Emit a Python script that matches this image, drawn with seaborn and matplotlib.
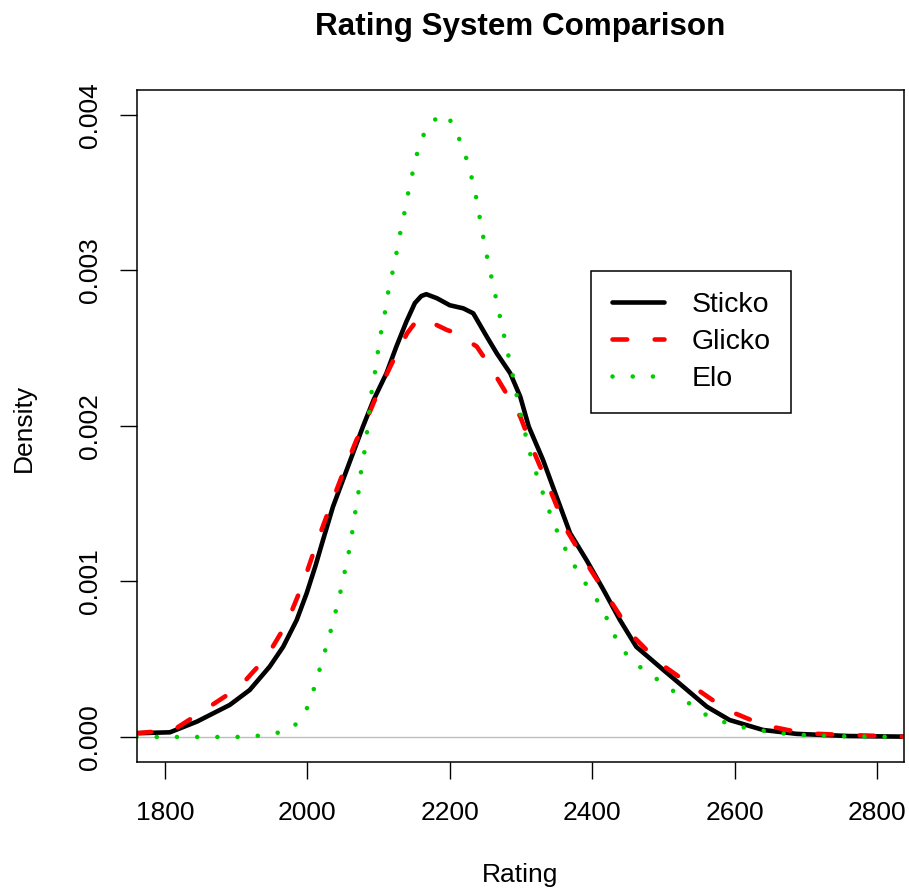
import numpy as np
import pandas as pd
import seaborn as sns
import matplotlib
matplotlib.use("Agg")
import matplotlib.pyplot as plt
from matplotlib.lines import Line2D

# densities (y in units of 1e-3)
sticko_x = [1760, 1807, 1845, 1891, 1919, 1947, 1966, 1985, 1999, 2011, 2022, 2036,
            2050, 2064, 2078, 2093, 2111, 2125, 2139, 2151, 2160, 2167, 2182, 2200, 2219,
            2233, 2252, 2266, 2285, 2299, 2311, 2331, 2350, 2369, 2392, 2416, 2439,
            2462, 2500, 2528, 2561, 2593, 2640, 2687, 2760, 2838]
sticko_y = [0.024, 0.030, 0.099, 0.206, 0.302, 0.452, 0.580, 0.752, 0.924, 1.095, 1.267, 1.481,
            1.653, 1.824, 1.995, 2.167, 2.338, 2.510, 2.670, 2.790, 2.835, 2.847, 2.821, 2.776, 2.756,
            2.724, 2.574, 2.467, 2.338, 2.188, 1.995, 1.781, 1.545, 1.310, 1.138, 0.945, 0.752,
            0.580, 0.431, 0.323, 0.195, 0.109, 0.045, 0.020, 0.006, 0.002]

glicko_x = [1760, 1812, 1859, 1905, 1943, 1971, 1994, 2013, 2032, 2050, 2069, 2079,
            2100, 2121, 2140, 2156, 2172, 2196, 2210, 2238, 2257, 2271, 2285, 2299,
            2317, 2341, 2364, 2392, 2425, 2458, 2495, 2542, 2589, 2640, 2697, 2753, 2838]
glicko_y = [0.024, 0.045, 0.184, 0.323, 0.516, 0.731, 0.988, 1.245, 1.481, 1.696, 1.910, 1.995,
            2.225, 2.424, 2.595, 2.692, 2.670, 2.617, 2.595, 2.510, 2.381, 2.274, 2.167, 2.060,
            1.846, 1.588, 1.331, 1.117, 0.881, 0.645, 0.474, 0.323, 0.174, 0.077, 0.024, 0.013, 0.002]

elo_x = [1760, 1900, 1924, 1953, 1979, 1997, 2007, 2015, 2023, 2031, 2038, 2045, 2051,
         2057, 2062, 2066, 2071, 2074, 2079, 2083, 2086, 2089, 2094, 2098, 2102, 2108,
         2112, 2118, 2124, 2129, 2135, 2140, 2146, 2152, 2160, 2173, 2196, 2209, 2220,
         2228, 2235, 2240, 2245, 2250, 2256, 2262, 2268, 2274, 2280, 2286, 2292, 2297,
         2304, 2310, 2318, 2327, 2336, 2346, 2357, 2370, 2384, 2401, 2416, 2427, 2440,
         2458, 2481, 2504, 2527, 2549, 2574, 2601, 2629, 2657, 2685, 2713, 2741, 2838]
elo_y = [0.0, 0.0, 0.004, 0.020, 0.056, 0.156, 0.277, 0.400, 0.525, 0.651, 0.776, 0.902, 1.031,
         1.158, 1.286, 1.413, 1.542, 1.670, 1.799, 1.927, 2.056, 2.187, 2.315, 2.444, 2.570, 2.699,
         2.828, 2.954, 3.082, 3.211, 3.338, 3.464, 3.590, 3.717, 3.843, 3.957, 4.004, 3.893, 3.770,
         3.646, 3.521, 3.394, 3.265, 3.138, 3.010, 2.883, 2.756, 2.628, 2.502, 2.375, 2.249, 2.122,
         1.995, 1.867, 1.743, 1.620, 1.498, 1.376, 1.256, 1.143, 1.029, 0.922, 0.812, 0.692, 0.577,
         0.480, 0.405, 0.328, 0.253, 0.165, 0.114, 0.071, 0.049, 0.028, 0.015, 0.010, 0.005, 0.0]

x_ticks = [1800, 2000, 2200, 2400, 2600, 2800]
y_ticks = [0.000, 0.001, 0.002, 0.003, 0.004]
labels = ["Sticko", "Glicko", "Elo"]

sns.set_style("ticks")
plt.rcParams['font.family'] = ['Liberation Sans', 'DejaVu Sans']
plt.rcParams['text.color'] = 'black'
plt.rcParams['axes.labelcolor'] = 'black'
fs = 19

fig = plt.figure(figsize=(9.09, 8.88), dpi=100)
ax = fig.add_axes([137 / 909, 1 - 762 / 888, (904 - 137) / 909, (762 - 90) / 888])

ax.axhline(0, color="#bebebe", lw=1, zorder=1)

lw = 3.3
dash_red = (3.2, 6.0)
dot_green = (0.01, 4.4)
sns.lineplot(x=sticko_x, y=np.array(sticko_y) / 1000, ax=ax, color="black", lw=lw,
             estimator=None, sort=False)
sns.lineplot(x=glicko_x, y=np.array(glicko_y) / 1000, ax=ax, color="#ff0000", lw=lw,
             estimator=None, sort=False)
sns.lineplot(x=elo_x, y=np.array(elo_y) / 1000, ax=ax, color="#00cd00", lw=lw,
             estimator=None, sort=False)

lines = ax.get_lines()[1:]
lines[0].set_solid_capstyle("round")
lines[0].set_solid_joinstyle("round")
lines[1].set_dashes(dash_red)
lines[1].set_dash_capstyle("round")
lines[1].set_dash_joinstyle("round")
lines[2].set_dashes(dot_green)
lines[2].set_dash_capstyle("round")

ax.set_xlim(1760.7, 2838)
ax.set_ylim(-0.000161, 0.00416)
ax.set_xticks(x_ticks)
ax.set_xticklabels([str(t) for t in x_ticks])
ax.set_yticks(y_ticks)
ax.set_yticklabels([f"{t:.3f}" for t in y_ticks])
ax.tick_params(axis="both", direction="out", length=12, width=1, color="black",
               labelsize=fs, labelcolor="black")
ax.tick_params(axis="x", pad=16)
ax.tick_params(axis="y", pad=13, labelrotation=90)
for lab in ax.get_yticklabels():
    lab.set_va("center")
for sp in ax.spines.values():
    sp.set_visible(True)
    sp.set_color("black")
    sp.set_linewidth(1.1)
ax.set_xlabel("")
ax.set_ylabel("")

handles = []
for i, ln in enumerate(lines):
    h = Line2D([0], [0], color=ln.get_color(), lw=lw)
    if i == 1:
        h.set_dashes(dash_red)
        h.set_dash_capstyle("round")
    elif i == 2:
        h.set_dashes(dot_green)
        h.set_dash_capstyle("round")
    else:
        h.set_solid_capstyle("round")
    handles.append(h)
leg = ax.legend(handles, labels, loc="upper left",
                bbox_to_anchor=((591 - 137) / 767, (762 - 271) / 672),
                borderaxespad=0, fontsize=20.5, frameon=True, fancybox=False,
                framealpha=1, edgecolor="black", handlelength=1.85,
                handletextpad=0.95, labelspacing=0.4, borderpad=0.72)
leg.get_frame().set_linewidth(1.1)

fig.text(520 / 909, 1 - 27 / 888, "Rating System Comparison", ha="center", va="center",
         fontsize=22.6, fontweight="bold")
fig.text(520 / 909, 1 - 875 / 888, "Rating", ha="center", va="center", fontsize=fs)
fig.text(24 / 909, 1 - 428 / 888, "Density", ha="center", va="center", fontsize=fs,
         rotation=90)

fig.savefig("out.png", dpi=100, facecolor="white")
